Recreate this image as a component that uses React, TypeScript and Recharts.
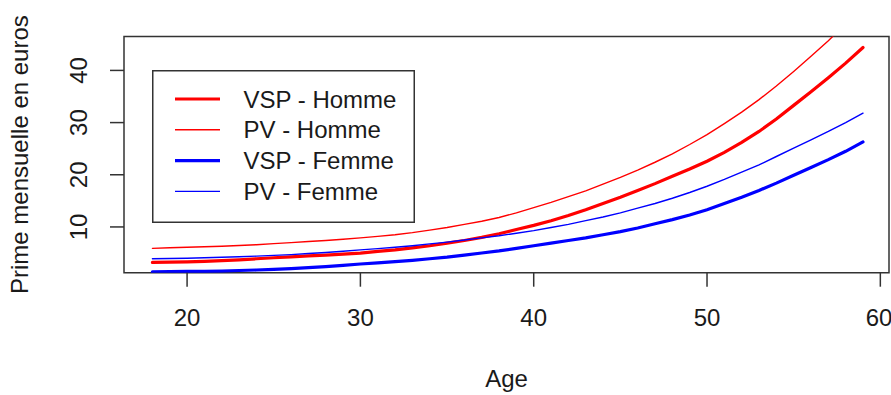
import { LineChart, Line, XAxis, YAxis, Legend, ReferenceArea, Label } from "recharts";

const FONT = '"Liberation Sans", Arial, sans-serif';
const INK = "#1a1a1a";
const FRAME = "#333";

const ages = [
  18, 19, 20, 21, 22, 23, 24, 25, 26, 27, 28, 29, 30, 31, 32, 33, 34, 35, 36, 37, 38,
  39, 40, 41, 42, 43, 44, 45, 46, 47, 48, 49, 50, 51, 52, 53, 54, 55, 56, 57, 58, 59,
];

const vspHomme = [
  3.2, 3.25, 3.3, 3.4, 3.55, 3.7, 3.9, 4.1, 4.25, 4.45, 4.6, 4.8, 5.0, 5.3, 5.6, 6.0, 6.4,
  6.9, 7.4, 8.0, 8.7, 9.5, 10.3, 11.2, 12.2, 13.3, 14.5, 15.7, 17.0, 18.3, 19.7, 21.1, 22.6,
  24.3, 26.2, 28.3, 30.7, 33.3, 35.9, 38.6, 41.4, 44.4,
];

const pvHomme = [
  5.9, 6.0, 6.1, 6.2, 6.3, 6.45, 6.6, 6.8, 7.0, 7.2, 7.4, 7.65, 7.9, 8.2, 8.5, 8.9, 9.4,
  9.9, 10.5, 11.1, 11.8, 12.7, 13.7, 14.7, 15.8, 16.9, 18.2, 19.5, 20.9, 22.4, 24.0, 25.8,
  27.7, 29.8, 32.0, 34.4, 37.0, 39.8, 42.7, 45.7, 48.9, 52.2,
];

const vspFemme = [
  1.4, 1.45, 1.5, 1.5, 1.55, 1.65, 1.75, 1.85, 2.0, 2.2, 2.4, 2.65, 2.9, 3.1, 3.35, 3.6,
  3.9, 4.2, 4.6, 5.0, 5.4, 5.9, 6.4, 6.9, 7.4, 7.9, 8.5, 9.1, 9.8, 10.6, 11.4, 12.3, 13.3,
  14.5, 15.7, 17.0, 18.4, 19.9, 21.4, 22.9, 24.5, 26.3,
];

const pvFemme = [
  3.9, 3.95, 4.0, 4.1, 4.2, 4.3, 4.4, 4.55, 4.7, 4.9, 5.1, 5.35, 5.6, 5.85, 6.1, 6.4, 6.75,
  7.1, 7.5, 7.9, 8.3, 8.8, 9.3, 9.9, 10.5, 11.2, 11.9, 12.7, 13.6, 14.5, 15.5, 16.6, 17.8,
  19.1, 20.5, 21.9, 23.5, 25.1, 26.7, 28.3, 30.0, 31.8,
];

const xTicks = [20, 30, 40, 50, 60];
const yTicks = [10, 20, 30, 40];

const series = [
  { key: "vspHomme", name: "VSP - Homme", color: "#ff0000", width: 3.2 },
  { key: "pvHomme", name: "PV - Homme", color: "#ff0000", width: 1.4 },
  { key: "vspFemme", name: "VSP - Femme", color: "#0000ff", width: 3.2 },
  { key: "pvFemme", name: "PV - Femme", color: "#0000ff", width: 1.4 },
];

const rows = ages.map((age, i) => ({
  age,
  vspHomme: vspHomme[i],
  pvHomme: pvHomme[i],
  vspFemme: vspFemme[i],
  pvFemme: pvFemme[i],
}));

const X_DOMAIN = [16.36, 60.5];
const Y_DOMAIN = [1.23, 46.5];

function YTick(props: any) {
  const { x, y, payload } = props;
  return (
    <text
      x={x}
      y={y}
      transform={`rotate(-90, ${x}, ${y})`}
      textAnchor="middle"
      fontFamily={FONT}
      fontSize={24}
      fill={INK}
    >
      {payload.value}
    </text>
  );
}

function LegendBox() {
  const step = 30.8;
  return (
    <svg width={264} height={154} style={{ display: "block" }}>
      <rect x={0.75} y={0.75} width={261.5} height={151.5} fill="#fff" stroke={FRAME} strokeWidth={1.5} />
      {series.map((s, i) => {
        const cy = 29 + i * step;
        return (
          <g key={s.key}>
            <line x1={23} x2={68} y1={cy} y2={cy} stroke={s.color} strokeWidth={s.width} />
            <text x={91.5} y={cy + 8.5} fontFamily={FONT} fontSize={24} fill={INK}>
              {s.name}
            </text>
          </g>
        );
      })}
    </svg>
  );
}

export default function App() {
  return (
    <div style={{ position: "absolute", left: 0, top: 0, background: "#fff" }}>
      <LineChart
        width={891}
        height={395}
        data={rows}
        margin={{ top: 36.5, right: 2, bottom: 0, left: 0 }}
      >
        <ReferenceArea
          x1={X_DOMAIN[0]}
          x2={X_DOMAIN[1]}
          y1={Y_DOMAIN[0]}
          y2={Y_DOMAIN[1]}
          fill="none"
          stroke={FRAME}
          strokeWidth={1.5}
          ifOverflow="visible"
        />
        <XAxis
          dataKey="age"
          type="number"
          domain={X_DOMAIN}
          ticks={xTicks}
          allowDataOverflow
          axisLine={false}
          tickLine={{ stroke: FRAME, strokeWidth: 1.5 }}
          tickSize={14}
          tickMargin={22}
          height={122.3}
          tick={{ fontFamily: FONT, fontSize: 24, fill: INK }}
        >
          <Label
            content={(p: any) => {
              const vb = p.viewBox;
              return (
                <text
                  x={vb.x + vb.width / 2}
                  y={vb.y + 114}
                  textAnchor="middle"
                  fontFamily={FONT}
                  fontSize={24}
                  fill={INK}
                >
                  Age
                </text>
              );
            }}
          />
        </XAxis>
        <YAxis
          type="number"
          domain={Y_DOMAIN}
          ticks={yTicks}
          allowDataOverflow
          axisLine={false}
          tickLine={{ stroke: FRAME, strokeWidth: 1.5 }}
          tickSize={14}
          tickMargin={23}
          width={124}
          tick={<YTick />}
        >
          <Label
            content={(p: any) => {
              const vb = p.viewBox;
              const cx = vb.x + 28.5;
              const cy = vb.y + vb.height / 2;
              return (
                <text
                  x={cx}
                  y={cy}
                  transform={`rotate(-90, ${cx}, ${cy})`}
                  textAnchor="middle"
                  fontFamily={FONT}
                  fontSize={24}
                  fill={INK}
                >
                  Prime mensuelle en euros
                </text>
              );
            }}
          />
        </YAxis>
        <Legend
          layout="vertical"
          align="center"
          verticalAlign="middle"
          wrapperStyle={{ left: 152, top: 70, width: 264, height: 154 }}
          content={() => <LegendBox />}
        />
        {series.map((s) => (
          <Line
            key={s.key}
            dataKey={s.key}
            name={s.name}
            type="linear"
            stroke={s.color}
            strokeWidth={s.width}
            strokeLinecap="round"
            dot={false}
            activeDot={false}
            isAnimationActive={false}
          />
        ))}
      </LineChart>
    </div>
  );
}
